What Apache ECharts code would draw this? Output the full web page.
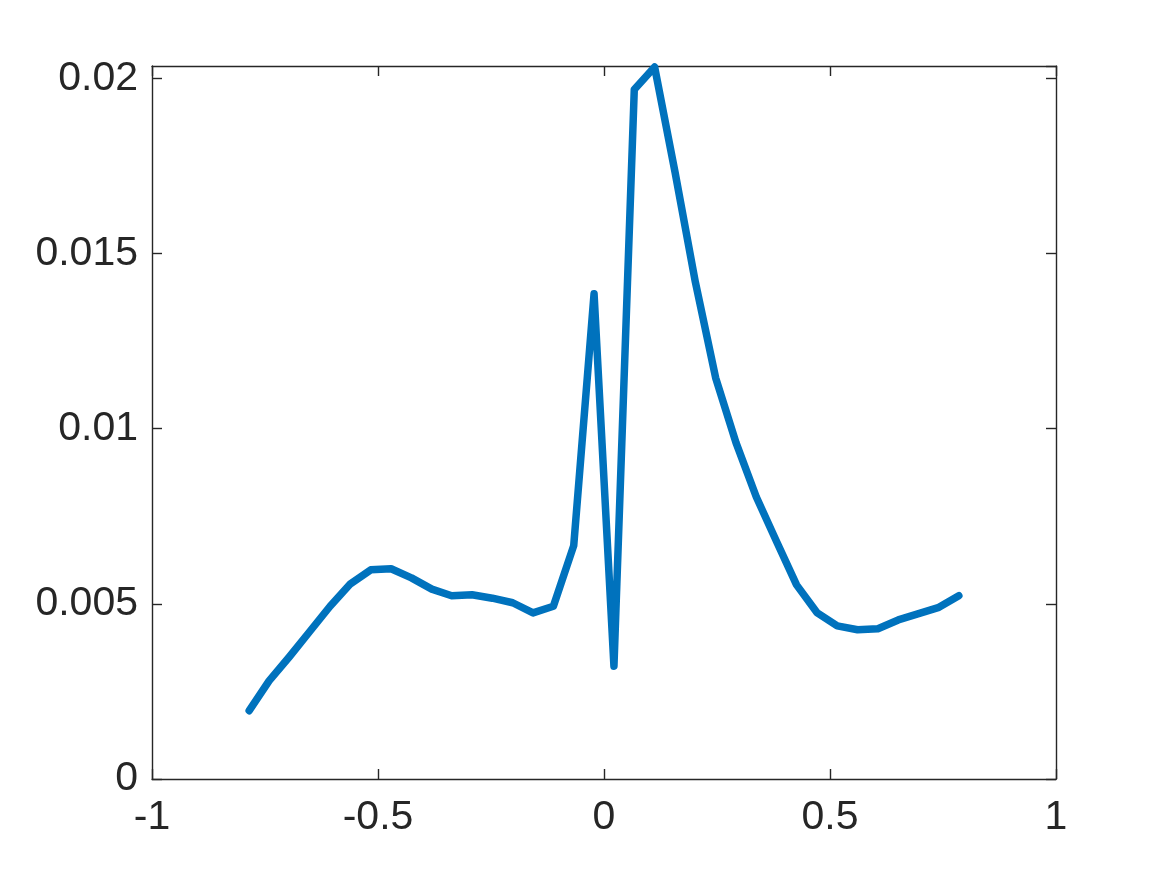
<!DOCTYPE html>
<html>
<head>
<meta charset="utf-8">
<script src="https://cdn.jsdelivr.net/npm/echarts@6/dist/echarts.min.js"></script>
<style>
html,body{margin:0;padding:0;background:#fff;}
#chart{width:1167px;height:875px;}
</style>
</head>
<body>
<div id="chart"></div>
<script>
const xValues = [-0.785, -0.741, -0.696, -0.651, -0.606, -0.561, -0.516, -0.471, -0.426, -0.381, -0.337, -0.292, -0.247, -0.202, -0.157, -0.112, -0.067, -0.022, 0.022, 0.067, 0.112, 0.157, 0.202, 0.247, 0.292, 0.337, 0.381, 0.426, 0.471, 0.516, 0.561, 0.606, 0.651, 0.696, 0.741, 0.785];
const yValues = [0.00195, 0.00280, 0.00349, 0.00421, 0.00493, 0.00557, 0.00597, 0.00600, 0.00574, 0.00542, 0.00523, 0.00526, 0.00516, 0.00503, 0.00474, 0.00493, 0.00666, 0.01385, 0.00322, 0.01968, 0.02032, 0.01733, 0.01419, 0.01145, 0.00960, 0.00805, 0.00680, 0.00554, 0.00475, 0.00437, 0.00426, 0.00429, 0.00454, 0.00472, 0.00490, 0.00523];
const xTicks = [-1, -0.5, 0, 0.5, 1];
const yTicks = [0, 0.005, 0.01, 0.015, 0.02];

const data = xValues.map((x, i) => [x, yValues[i]]);
const axisColor = '#262626';
const labelFont = {color: axisColor, fontSize: 41, fontFamily: 'Liberation Sans, Arial, Helvetica, sans-serif'};

function isTick(list, v) { return list.some(t => Math.abs(t - v) < 1e-9); }

const chart = echarts.init(document.getElementById('chart'), null, {renderer: 'canvas'});
chart.setOption({
  animation: false,
  backgroundColor: '#ffffff',
  grid: {left: 152, right: 111, top: 66, bottom: 96, containLabel: false},
  xAxis: [{
    type: 'value', min: -1, max: 1, interval: 0.5, position: 'bottom',
    axisLine: {show: true, onZero: false, lineStyle: {color: axisColor, width: 1.4}},
    axisTick: {show: true, inside: true, length: 10, lineStyle: {color: axisColor, width: 1.4}},
    axisLabel: Object.assign({margin: 18, formatter: v => isTick(xTicks, v) ? String(v) : ''}, labelFont),
    splitLine: {show: false}
  }, {
    type: 'value', min: -1, max: 1, interval: 0.5, position: 'top',
    axisLine: {show: true, onZero: false, lineStyle: {color: axisColor, width: 1.4}},
    axisTick: {show: true, inside: true, length: 10, lineStyle: {color: axisColor, width: 1.4}},
    axisLabel: {show: false},
    splitLine: {show: false}
  }],
  yAxis: [{
    type: 'value', min: 0, max: 0.02035, interval: 0.005, position: 'left',
    axisLine: {show: true, onZero: false, lineStyle: {color: axisColor, width: 1.4}},
    axisTick: {show: true, inside: true, length: 10, lineStyle: {color: axisColor, width: 1.4}},
    axisLabel: Object.assign({margin: 14, showMaxLabel: false, formatter: v => isTick(yTicks, v) ? String(v) : ''}, labelFont),
    splitLine: {show: false}
  }, {
    type: 'value', min: 0, max: 0.02035, interval: 0.005, position: 'right',
    axisLine: {show: true, onZero: false, lineStyle: {color: axisColor, width: 1.4}},
    axisTick: {show: true, inside: true, length: 10, lineStyle: {color: axisColor, width: 1.4}},
    axisLabel: {show: false},
    splitLine: {show: false}
  }],
  series: [{
    type: 'line',
    xAxisIndex: 0, yAxisIndex: 0,
    data: data,
    showSymbol: false,
    symbol: 'none',
    lineStyle: {color: '#0072BD', width: 7.5, cap: 'round', join: 'round'},
    clip: false
  }]
});
</script>
</body>
</html>
